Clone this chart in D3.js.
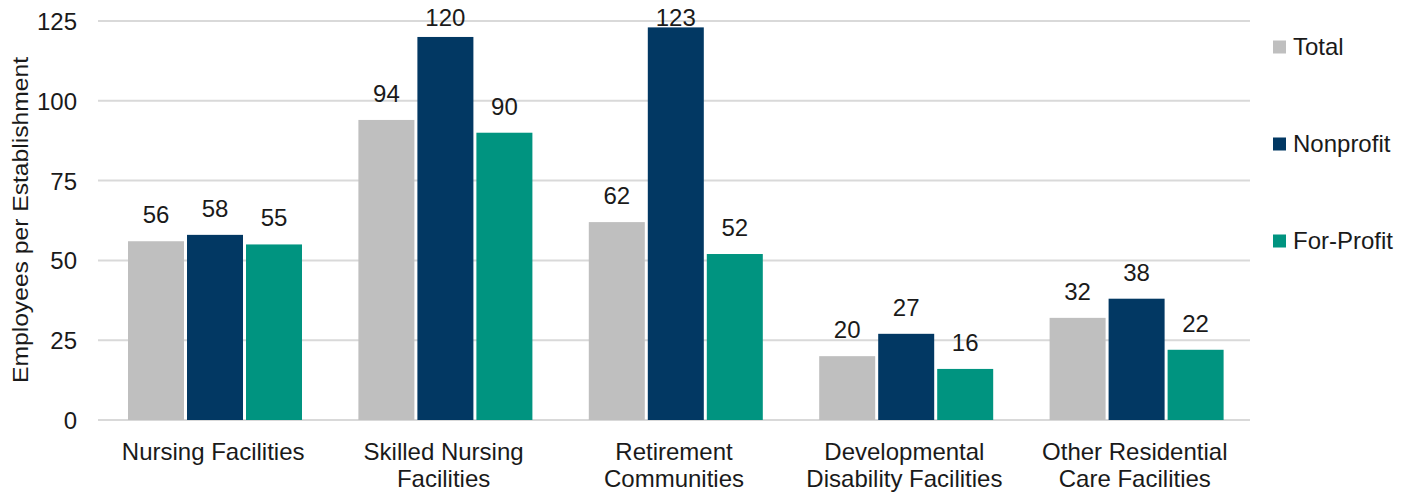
<!DOCTYPE html>
<html><head><meta charset="utf-8">
<script src="https://cdn.jsdelivr.net/npm/d3@7"></script>
<style>body{margin:0;background:#fff}svg{display:block;font-family:"Liberation Sans",Arial,sans-serif}</style>
</head><body><svg id="c" width="1416" height="493"></svg>
<script>
const categories = [["Nursing Facilities"],["Skilled Nursing","Facilities"],["Retirement","Communities"],["Developmental","Disability Facilities"],["Other Residential","Care Facilities"]];
const seriesNames = ["Total","Nonprofit","For-Profit"];
const totalValues = [56,94,62,20,32];
const nonprofitValues = [58,120,123,27,38];
const forProfitValues = [55,90,52,16,22];
const yTicks = [0,25,50,75,100,125];
const colors = ["#bfbfbf","#023863","#009480"];

const svg = d3.select("#c");
const series = [totalValues, nonprofitValues, forProfitValues];
const x0 = d3.scaleBand().domain(d3.range(categories.length)).range([98,1250]).paddingInner(0).paddingOuter(0);
const x1 = d3.scaleBand().domain(d3.range(3)).range([30, 204]).paddingInner(3/59).paddingOuter(0);
const y = d3.scaleLinear().domain([0,125]).range([420,21]);

// gridlines
svg.append("g").selectAll("line").data(yTicks).join("line")
  .attr("x1",98).attr("x2",1250).attr("y1",d=>y(d)).attr("y2",d=>y(d))
  .attr("stroke","#d9d9d9").attr("stroke-width",2);

// y axis labels
const yAxis = d3.axisLeft(y).tickValues(yTicks).tickSize(0).tickPadding(0);
const ya = svg.append("g").attr("transform","translate(77,0)").call(yAxis);
ya.select(".domain").remove();
ya.selectAll("text").attr("font-size",24).attr("fill","#1a1a1a").attr("font-family","Liberation Sans, Arial, sans-serif").attr("dy","0.35em");

svg.append("text").attr("transform","translate(28,220) rotate(-90)").attr("text-anchor","middle")
  .attr("font-size",22).attr("fill","#1a1a1a").attr("textLength",326).attr("lengthAdjust","spacingAndGlyphs")
  .text("Employees per Establishment");

// bars
const g = svg.append("g").selectAll("g").data(categories).join("g")
  .attr("transform",(d,i)=>`translate(${x0(i)},0)`);
g.each(function(cat,i){
  const gg = d3.select(this);
  series.forEach((s,j)=>{
    gg.append("rect").attr("x",x1(j)).attr("width",x1.bandwidth())
      .attr("y",y(s[i])).attr("height",y(0)-y(s[i])).attr("fill",colors[j]);
    gg.append("text").attr("x",x1(j)+x1.bandwidth()/2).attr("y",Math.max(y(s[i])-18, 26))
      .attr("text-anchor","middle").attr("font-size",24).attr("fill","#1a1a1a").text(s[i]);
  });
  const t = gg.append("text").attr("text-anchor","middle").attr("font-size",24).attr("fill","#1a1a1a");
  cat.forEach((line,k)=>t.append("tspan").attr("x",x0.bandwidth()/2).attr("y",460+k*27).text(line));
});

// legend
const leg = svg.append("g").selectAll("g").data(seriesNames).join("g")
  .attr("transform",(d,i)=>`translate(1273,${47+i*97})`);
leg.append("rect").attr("x",0).attr("y",-6.5).attr("width",13).attr("height",13).attr("fill",(d,i)=>colors[i]);
leg.append("text").attr("x",20).attr("dy","0.35em").attr("font-size",24).attr("fill","#1a1a1a").text(d=>d);
</script></body></html>
